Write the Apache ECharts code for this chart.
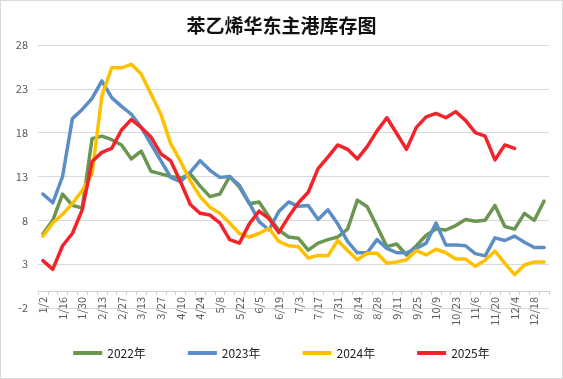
<!DOCTYPE html>
<html>
<head>
<meta charset="utf-8">
<script src="https://cdn.jsdelivr.net/npm/echarts@6/dist/echarts.min.js"></script>
<style>
html,body{margin:0;padding:0;background:#fff;}
#c{width:561px;height:377px;border:1px solid #d9d9d9;}
</style>
</head>
<body>
<div id="c"></div>
<script>
const title = '苯乙烯华东主港库存图';
const categories = ['1/2','1/9','1/16','1/23','1/30','2/6','2/13','2/20','2/27','3/6','3/13','3/20','3/27','4/3','4/10','4/17','4/24','5/1','5/8','5/15','5/22','5/29','6/5','6/12','6/19','6/26','7/3','7/10','7/17','7/24','7/31','8/7','8/14','8/21','8/28','9/4','9/11','9/18','9/25','10/2','10/9','10/16','10/23','10/30','11/6','11/13','11/20','11/27','12/4','12/11','12/18','12/25'];
const seriesNames = ['2022年','2023年','2024年','2025年'];
const y2022 = [6.45,8.0,11.0,9.7,9.4,17.3,17.6,17.2,16.6,15.0,15.9,13.6,13.3,13.0,12.8,13.3,11.9,10.7,11.0,13.0,11.8,9.9,10.1,8.4,6.9,6.1,5.95,4.6,5.4,5.8,6.1,7.0,10.3,9.55,7.3,5.0,5.3,4.05,5.1,6.3,7.0,6.9,7.4,8.1,7.9,8.0,9.7,7.3,7.0,8.8,8.0,10.2];
const y2023 = [11.0,10.0,13.0,19.6,20.65,21.9,23.9,22.0,21.0,20.1,18.6,16.7,14.8,12.9,12.4,13.5,14.8,13.7,12.9,13.0,12.0,10.0,7.85,6.9,9.0,10.1,9.6,9.7,8.1,9.2,7.6,5.6,4.3,4.3,5.8,4.8,4.3,4.3,4.8,5.4,7.7,5.2,5.2,5.1,4.2,3.95,6.0,5.7,6.2,5.5,4.9,4.9];
const y2024 = [6.2,7.7,8.7,9.9,11.4,13.3,22.2,25.4,25.4,25.8,24.7,22.4,20.1,16.75,14.75,12.5,10.7,9.5,8.8,7.7,6.5,6.1,6.5,7.1,5.6,5.1,5.0,3.7,4.0,3.95,5.7,4.55,3.5,4.25,4.25,3.1,3.25,3.5,4.55,4.05,4.7,4.3,3.6,3.6,2.75,3.45,4.5,3.1,1.8,2.9,3.25,3.25];
const y2025 = [3.4,2.4,5.1,6.5,9.2,14.7,15.75,16.2,18.3,19.5,18.6,17.5,15.6,14.8,12.4,9.8,8.8,8.6,7.7,5.8,5.4,7.6,9.05,8.2,6.6,8.4,10.0,11.2,13.9,15.2,16.6,16.1,15.0,16.4,18.2,19.7,17.9,16.1,18.6,19.8,20.2,19.7,20.4,19.4,18.0,17.6,14.9,16.6,16.2];
const colors = ['#6B9652','#5B8EC6','#FFC000','#F2232B'];

const chart = echarts.init(document.getElementById('c'));
const font = 'Noto Sans CJK SC';
const data = [y2022, y2023, y2024, y2025];
chart.setOption({
  animation: false,
  textStyle: {fontFamily: font},
  title: {
    text: title, left: 'center', top: 10,
    textStyle: {fontSize: 19, fontWeight: 'bold', color: '#111', fontFamily: font}
  },
  legend: {
    data: seriesNames, bottom: 14, left: 'center',
    icon: 'rect', itemWidth: 29, itemHeight: 4, itemGap: 42,
    textStyle: {fontSize: 12, color: '#222', fontFamily: font}
  },
  grid: {left: 37, right: 13, top: 44, bottom: 70, containLabel: false},
  xAxis: {
    type: 'category', data: categories, boundaryGap: true,
    offset: -17,
    axisLine: {onZero: false, lineStyle: {color: '#d0d0d0', width: 1}},
    axisTick: {show: true, interval: 0, length: 4, lineStyle: {color: '#d0d0d0'}},
    axisLabel: {interval: 1, rotate: 90, fontSize: 11, color: '#595959', margin: 6, fontFamily: font}
  },
  yAxis: {
    type: 'value', min: -2, max: 28, interval: 5,
    axisLine: {show: false}, axisTick: {show: false},
    axisLabel: {fontSize: 11, color: '#595959', margin: 10, fontFamily: font},
    splitLine: {lineStyle: {color: '#d9d9d9', width: 1}}
  },
  series: seriesNames.map((n, k) => ({
    name: n, type: 'line', data: data[k], showSymbol: false, symbol: 'none',
    lineStyle: {width: 3.5, color: colors[k], cap: 'round', join: 'round'},
    itemStyle: {color: colors[k]}
  }))
});
</script>
</body>
</html>
